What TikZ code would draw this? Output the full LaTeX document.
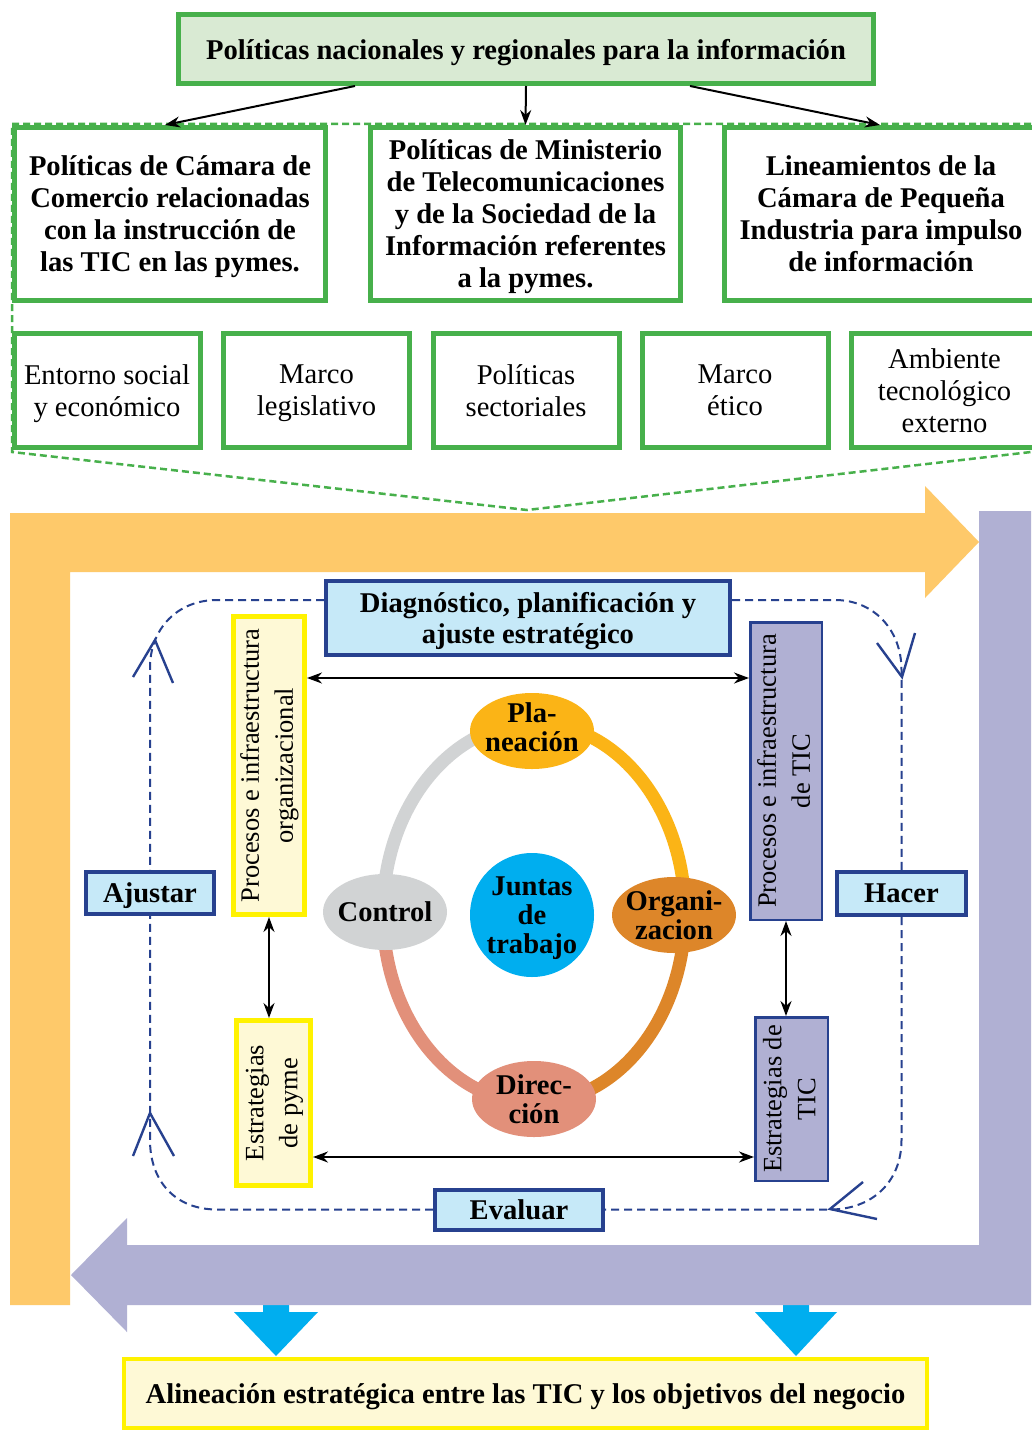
\documentclass[tikz,border=0pt]{standalone}
\usepackage{fontspec}
\setmainfont{Liberation Serif}
\usetikzlibrary{arrows.meta,calc,shapes.geometric}
\definecolor{gB}{HTML}{47B04B}
\definecolor{gF}{HTML}{D9EAD3}
\definecolor{orA}{HTML}{FEC96A}
\definecolor{puA}{HTML}{B0B0D3}
\definecolor{lbl}{HTML}{C6E9F8}
\definecolor{dbl}{HTML}{27418F}
\definecolor{yeB}{HTML}{FFF200}
\definecolor{yeF}{HTML}{FEF9D6}
\definecolor{amb}{HTML}{FBB416}
\definecolor{orD}{HTML}{DD8629}
\definecolor{sal}{HTML}{E2907A}
\definecolor{grC}{HTML}{D1D3D4}
\definecolor{cyA}{HTML}{00AEEF}
\newcommand\bft{\fontsize{28.6}{32}\selectfont\bfseries}
\newcommand\rgt{\fontsize{28.6}{32}\selectfont}
\newcommand\vtxt[2]{\rotatebox{90}{\fontsize{26.5}{34}\selectfont\begin{tabular}{@{}c@{}}#1\\#2\end{tabular}}}
\begin{document}
\begin{tikzpicture}[x=1pt,y=-1pt,
  gbox/.style={draw=gB,line width=5pt,fill=white,inner sep=0pt,align=center,font=\bft,text depth=-5pt},
  fbox/.style={draw=gB,line width=5pt,fill=white,inner sep=0pt,align=center,font=\rgt,minimum width=186pt,minimum height=114pt,text depth=-2pt},
  bbox/.style={draw=dbl,line width=4pt,fill=lbl,inner sep=0pt,align=center,font=\fontsize{28.6}{31}\selectfont\bfseries},
  ybox/.style={draw=yeB,line width=5pt,fill=yeF,inner sep=0pt},
  pbox/.style={draw=dbl,line width=2.5pt,fill=puA,inner sep=0pt},
  blk/.style={line width=2pt,{Stealth[length=15pt,width=11pt]}-{Stealth[length=15pt,width=11pt]}},
  dn/.style={line width=2pt,-{Stealth[length=15pt,width=11pt]}},
  lp/.style={draw=dbl,line width=2pt,dash pattern=on 8pt off 5pt},
  vv/.style={draw=dbl,line width=2.4pt},
  ring/.style={line width=13pt},
  en/.style={ellipse,minimum width=124pt,minimum height=76pt,inner xsep=-9pt,inner ysep=-3pt,align=center,font=\fontsize{28.6}{29}\selectfont\bfseries}
]
\fill[white] (0,0) rectangle (1031,1431);
\useasboundingbox (0,0) rectangle (1031,1431);

% green dashed outline
\draw[gB,line width=2.5pt,dash pattern=on 7pt off 4pt] (1031,124) -- (12,124) -- (12,452) -- (527,510) -- (1031,452);

\node[draw=gB,line width=5pt,fill=gF,minimum width=695pt,minimum height=69pt,inner sep=0pt,font=\bft,text depth=0pt] (top) at (526,49) {Políticas nacionales y regionales para la información};

\node[gbox,minimum width=311pt,minimum height=173pt] (p1) at (170,214) {Políticas de Cámara de\\Comercio relacionadas\\con la instrucción de\\las TIC en las pymes.};
\node[gbox,minimum width=310pt,minimum height=173pt] (p2) at (525.5,214) {Políticas de Ministerio\\de Telecomunicaciones\\y de la Sociedad de la\\Información referentes\\a la pymes.};
\node[gbox,minimum width=313pt,minimum height=173pt] (p3) at (881,214) {Lineamientos de la\\Cámara de Pequeña\\Industria para impulso\\de información};

\draw[dn] ([xshift=-171pt]top.south) -- ([xshift=-5pt]p1.north);
\draw[dn] (top.south) -- (p2.north);
\draw[dn] ([xshift=164pt]top.south) -- ([xshift=-1pt]p3.north);

\node[fbox] (e1) at (107,390.5) {Entorno social\\y económico};
\node[fbox] (e2) at (316.5,390.5) {Marco\\legislativo};
\node[fbox] (e3) at (526,390.5) {Políticas\\sectoriales};
\node[fbox] (e4) at (735,390.5) {Marco\\ético};
\node[fbox] (e5) at (944.5,390.5) {Ambiente\\tecnológico\\externo};

% big block arrows
\fill[cyA] (263,1300) -- (289,1300) -- (289,1312) -- (318,1312) -- (276,1356) -- (234,1312) -- (263,1312) -- cycle;
\fill[cyA] (783,1300) -- (809,1300) -- (809,1312) -- (837,1312) -- (796,1356) -- (755,1312) -- (783,1312) -- cycle;
\fill[orA] (10,513) -- (925,513) -- (925,486) -- (979,542) -- (925,598) -- (925,572) -- (70,572) -- (70,1305) -- (10,1305) -- cycle;
\fill[puA] (979,511) -- (1031,511) -- (1031,1305) -- (127,1305) -- (127,1332) -- (71,1275) -- (127,1218) -- (127,1245) -- (979,1245) -- cycle;

% loop boxes
\node[bbox,minimum width=404pt,minimum height=74pt,text depth=-4pt] (diag) at (528,618) {Diagnóstico, planificación y\\ajuste estratégico};
\node[bbox,minimum width=128pt,minimum height=42pt,text depth=-2pt] (aj) at (150,893) {Ajustar};
\node[bbox,minimum width=129pt,minimum height=43pt,text depth=-6pt] (hac) at (901.5,893.5) {Hacer};
\node[bbox,minimum width=168pt,minimum height=40pt] (ev) at (519,1209.5) {Evaluar};

\coordinate (lt) at (0,600);
\draw[lp] (diag.west |- lt) -- (217,600) .. controls (178,600) and (150,628) .. (150,668) -- (aj.north);
\draw[lp] (diag.east |- lt) -- (835,600) .. controls (874,600) and (901.5,630) .. (901.5,670) -- (hac.north);
\draw[lp] (hac.south) -- (901.5,1140) .. controls (901.5,1182) and (872,1209.5) .. (830,1209.5) -- (ev.east);
\draw[lp] (ev.west) -- (217,1209.5) .. controls (176,1209.5) and (150,1182) .. (150,1140) -- (aj.south);
\draw[vv] (133,677) -- (155,640) -- (173,683);
\draw[vv] (877,643) -- (902,677) -- (915,633);
\draw[vv] (863,1182) -- (830,1209) -- (877,1219);
\draw[vv] (133,1156) -- (150,1113) -- (174,1156);

% side boxes
\node[ybox,minimum width=71pt,minimum height=298pt] (org) at (269,765.5) {\vtxt{Procesos e infraestructura}{organizacional}};
\node[pbox,minimum width=71.5pt,minimum height=297.5pt] (tic) at (786,771) {\vtxt{Procesos e infraestructura}{de TIC}};
\node[ybox,minimum width=74pt,minimum height=165pt] (pyme) at (273.5,1103) {\vtxt{Estrategias}{de pyme}};
\node[pbox,minimum width=72.5pt,minimum height=163.5pt] (etic) at (791.5,1099) {\vtxt{Estrategias de}{TIC}};

\coordinate (h1) at (0,678);
\coordinate (h2) at (0,1157);
\draw[blk] (org.east |- h1) -- (tic.west |- h1);
\draw[blk] (pyme.east |- h2) -- (etic.west |- h2);
\draw[blk] (org.south) -- (org.south |- pyme.north);
\draw[blk] (tic.south) -- (tic.south |- etic.north);

% ring
\coordinate (rc) at (534,913);
\draw[ring,grC] ($(rc)+(-151,0)$) arc[start angle=180,end angle=270,x radius=151,y radius=190];
\draw[ring,amb] ($(rc)+(0,-190)$) arc[start angle=270,end angle=360,x radius=151,y radius=190];
\draw[ring,orD] ($(rc)+(151,0)$) arc[start angle=0,end angle=90,x radius=151,y radius=190];
\draw[ring,sal] ($(rc)+(0,190)$) arc[start angle=90,end angle=180,x radius=151,y radius=190];

\node[en,fill=amb,text depth=8pt] (pla) at (532,731) {Pla-\\neación};
\node[en,fill=grC] (con) at (385,912) {Control};
\node[en,fill=orD] (orz) at (674,915) {Organi-\\zacion};
\node[en,fill=sal] (dir) at (534,1099) {Direc-\\ción};
\node[circle,fill=cyA,minimum size=124pt,inner sep=0pt,align=center,font=\fontsize{28.6}{29}\selectfont\bfseries,text depth=0pt] (jun) at (532,915) {Juntas\\de\\trabajo};

\node[draw=yeB,line width=4pt,fill=yeF,minimum width=803pt,minimum height=69pt,inner sep=0pt,font=\bft,text depth=-14pt] (bot) at (525.5,1393.5) {Alineación estratégica entre las TIC y los objetivos del negocio};
\end{tikzpicture}
\end{document}
